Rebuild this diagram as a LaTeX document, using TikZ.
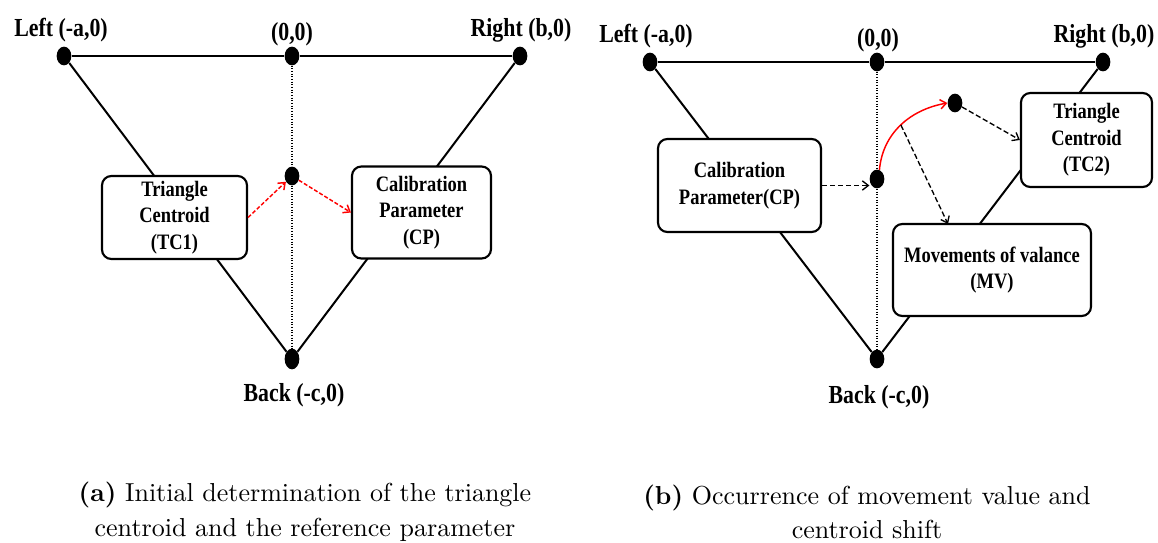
\documentclass[tikz,border=0pt]{standalone}
\usepackage{fontspec}
\newfontfamily\lblfont[FakeStretch=0.84]{Liberation Serif}
\newfontfamily\capfont{lmroman10-regular.otf}[BoldFont=lmroman10-bold.otf]
\usetikzlibrary{arrows.meta,shapes.geometric}

\tikzset{
  vertex/.style={ellipse,fill=black,inner sep=0pt,minimum width=11pt,minimum height=14pt},
  edge/.style={line width=1.5pt},
  axis/.style={line width=0.8pt,dash pattern={on 0.8pt off 1.2pt}},
  stage/.style={draw,fill=white,line width=1.6pt,rounded corners=7pt,align=center,inner sep=2pt,
    font=\lblfont\bfseries\fontsize{16.5}{20}\selectfont},
  corner/.style={inner sep=0.75pt,font=\lblfont\bfseries\fontsize{19.5}{22}\selectfont},
  redflow/.style={red,line width=1.1pt,dash pattern={on 3pt off 1.5pt},-{Straight Barb[length=4.5pt,width=7pt]}},
  redcurve/.style={red,line width=1.1pt,-{Straight Barb[length=4.5pt,width=7pt]}},
  flow/.style={line width=1pt,dash pattern={on 4pt off 2pt},-{Straight Barb[length=4.5pt,width=7pt]}},
  caption/.style={align=center,inner sep=0pt,font=\capfont\fontsize{19.5}{26}\selectfont}
}

\begin{document}
\begin{tikzpicture}[x=0.75pt,y=0.75pt,yscale=-1,xscale=1]
\useasboundingbox (0,0) rectangle (1158,543);

%%% (a) initial determination
% Vertices
\node [vertex] (aLeft) at (64,56) {};
\node [vertex] (aOrig) at (292,56) {};
\node [vertex] (aRight) at (520,56) {};
\node [vertex] (aMid) at (292,176) {};
\node [vertex,minimum height=15.5pt] (aBack) at (292,359) {};
% Triangle edges
\draw [edge] (aLeft) -- (aOrig) -- (aRight);
\draw [edge] (aLeft) -- (aBack);
\draw [edge] (aRight) -- (aBack);
\draw [axis] (aOrig) -- (aBack);
% Boxes
\node [stage,minimum width=108.75pt,minimum height=62.25pt] (aTC) at (174.5,217.5) {Triangle\\Centroid\\(TC1)};
\node [stage,minimum width=104.25pt,minimum height=69pt] (aCP) at (421.5,212.5) {Calibration\\Parameter\\(CP)};
% Arrows
\draw [redflow] (aTC.east) -- (aMid);
\draw [redflow] (aMid) -- (aCP.west);
% Text Node
\node [corner] (aLeftLbl) at (61,30) {Left (-a,0)};
\node [corner] (aOrigLbl) at (292,34) {(0,0)};
\node [corner] (aRightLbl) at (521,30) {Right (b,0)};
\node [corner] (aBackLbl) at (294,395) {Back (-c,0)};

%%% (b) movement and centroid shift
% Vertices
\node [vertex] (bLeft) at (650,62) {};
\node [vertex] (bOrig) at (877,62) {};
\node [vertex] (bRight) at (1103,62) {};
\node [vertex] (bMid) at (877,179) {};
\node [vertex] (bUp) at (955,103) {};
\node [vertex] (bBack) at (877,359) {};
% Triangle edges
\draw [edge] (bLeft) -- (bOrig) -- (bRight);
\draw [edge] (bLeft) -- (bBack);
\draw [edge] (bRight) -- (bBack);
\draw [axis] (bOrig) -- (bBack);
% Boxes
\node [stage,minimum width=122.25pt,minimum height=69.75pt] (bCP) at (739.5,185.5) {Calibration\\Parameter(CP)};
\node [stage,minimum width=98.25pt,minimum height=70.5pt] (bTC) at (1086.5,140) {Triangle\\Centroid\\(TC2)};
\node [stage,minimum width=148.5pt,minimum height=69pt] (bMV) at (992,270) {Movements of valance\\(MV)};
\coordinate (bMVin) at (948,224);
% Arrows
\draw [flow] (bCP.east) -- (bCP.east -| bMid.west);
\draw [redcurve] (bMid.75) to[out=275,in=170,looseness=1] coordinate[pos=0.5] (bKnee) (bUp.west);
\draw [flow] (bKnee) -- (bMVin);
\draw [flow] (bUp) -- (bTC.west);
% Text Node
\node [corner] (bLeftLbl) at (646,36) {Left (-a,0)};
\node [corner] (bOrigLbl) at (878,40) {(0,0)};
\node [corner] (bRightLbl) at (1104,36) {Right (b,0)};
\node [corner] (bBackLbl) at (879,397) {Back (-c,0)};

%%% Captions
\node [caption] (capA) at (305,512) {\textbf{(a)} Initial determination of the triangle\\centroid and the reference parameter};
\node [caption] (capB) at (867,512) {\textbf{(b)} Occurrence of movement value and\\centroid shift};

\end{tikzpicture}
\end{document}
